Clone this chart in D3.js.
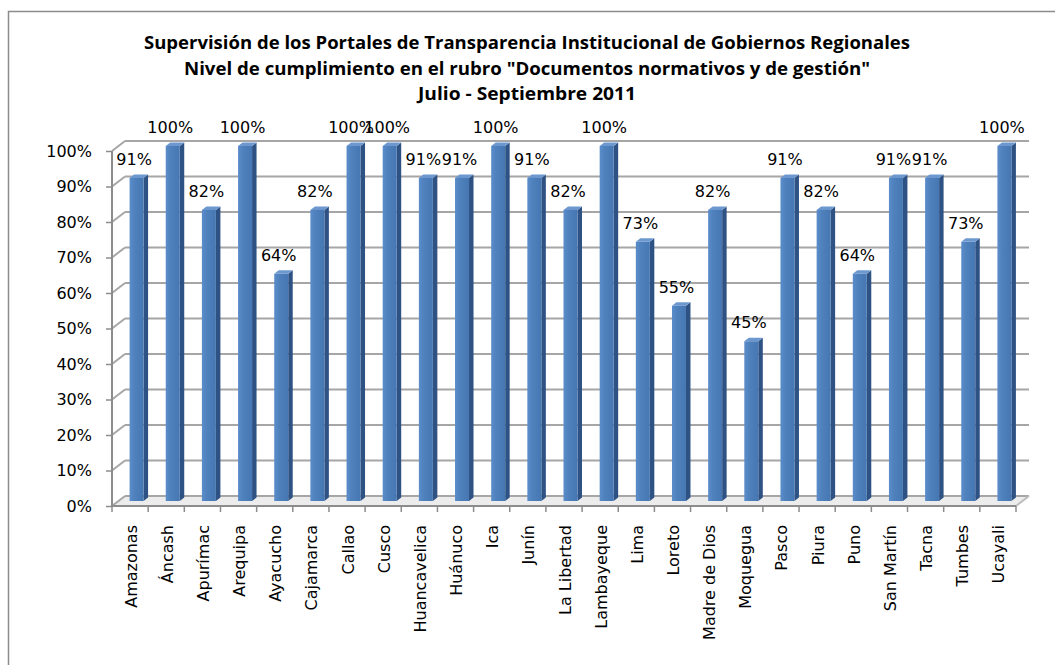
<!DOCTYPE html>
<html>
<head>
    <meta charset="utf-8">
    <script src="https://d3js.org/d3.v7.min.js"></script>
    <style>
        body { margin: 0; background: #fff; }
        text { font-family: "DejaVu Sans", sans-serif; fill: #000; }
    </style>
</head>
<body>
    <svg width="1055" height="665"></svg>
    <script>
        const titleLines = [
            "Supervisión de los Portales de Transparencia Institucional de Gobiernos Regionales",
            "Nivel de cumplimiento en el rubro \"Documentos normativos y de gestión\"",
            "Julio - Septiembre 2011"
        ];
        const regions = ["Amazonas", "Áncash", "Apurímac", "Arequipa", "Ayacucho", "Cajamarca",
            "Callao", "Cusco", "Huancavelica", "Huánuco", "Ica", "Junín", "La Libertad",
            "Lambayeque", "Lima", "Loreto", "Madre de Dios", "Moquegua", "Pasco", "Piura",
            "Puno", "San Martín", "Tacna", "Tumbes", "Ucayali"];
        const values = [0.91, 1.00, 0.82, 1.00, 0.64, 0.82, 1.00, 1.00, 0.91, 0.91, 1.00, 0.91, 0.82,
            1.00, 0.73, 0.55, 0.82, 0.45, 0.91, 0.82, 0.64, 0.91, 0.91, 0.73, 1.00];
        const yTicks = [0, 0.1, 0.2, 0.3, 0.4, 0.5, 0.6, 0.7, 0.8, 0.9, 1.0];

        const data = regions.map((r, i) => ({ region: r, value: values[i] }));

        // 3d depth of the plot box
        const dx = 13, dy = -10;
        const plotLeft = 112, plotRight = 1016, plotBottom = 506, plotTop = 151;

        const svg = d3.select("svg");

        // outer frame
        svg.append("rect")
            .attr("x", 8.5).attr("y", 11.5)
            .attr("width", 1100).attr("height", 700)
            .attr("fill", "none").attr("stroke", "#8c8c8c").attr("stroke-width", 1.5);

        // title
        const titleWidths = [766, 686, 218];
        const titleBase = [49, 75, 100];
        titleLines.forEach((t, i) => {
            svg.append("text")
                .attr("x", 527).attr("y", titleBase[i])
                .attr("text-anchor", "middle")
                .attr("textLength", titleWidths[i])
                .attr("lengthAdjust", "spacingAndGlyphs")
                .style("font-family", "'Open Sans', sans-serif")
                .style("font-weight", "bold")
                .style("font-size", "17px")
                .text(t);
        });

        const x = d3.scaleBand().domain(regions).range([plotLeft, plotRight]);
        const y = d3.scaleLinear().domain([0, 1]).range([plotBottom, plotTop]);

        // floor
        svg.append("path")
            .attr("d", `M${plotLeft},${plotBottom}L${plotRight},${plotBottom}L${plotRight + dx},${plotBottom + dy}L${plotLeft + dx},${plotBottom + dy}Z`)
            .attr("fill", "#ececec").attr("stroke", "none");

        // back wall gridlines + side wall diagonals
        const grid = svg.append("g");
        yTicks.forEach(t => {
            grid.append("line")
                .attr("x1", plotLeft + dx).attr("x2", plotRight + dx)
                .attr("y1", y(t) + dy).attr("y2", y(t) + dy)
                .attr("stroke", "#a6a6a6").attr("stroke-width", 2.2);
            grid.append("line")
                .attr("x1", plotLeft).attr("y1", y(t))
                .attr("x2", plotLeft + dx).attr("y2", y(t) + dy)
                .attr("stroke", "#a6a6a6").attr("stroke-width", 2);
        });
        grid.append("line")
            .attr("x1", plotRight).attr("y1", plotBottom)
            .attr("x2", plotRight + dx).attr("y2", plotBottom + dy)
            .attr("stroke", "#bdbdbd").attr("stroke-width", 2);

        // bar gradient
        const defs = svg.append("defs");
        const grad = defs.append("linearGradient").attr("id", "face").attr("x1", 0).attr("x2", 1);
        grad.append("stop").attr("offset", "0%").attr("stop-color", "#5b8dcb");
        grad.append("stop").attr("offset", "35%").attr("stop-color", "#4f81bd");
        grad.append("stop").attr("offset", "100%").attr("stop-color", "#4677b2");

        const faceW = 14, sideW = 4.5, sideH = -3.5;
        const bars = svg.append("g").selectAll("g")
            .data(data)
            .enter()
            .append("g")
            .attr("transform", d => `translate(${x(d.region) + x.bandwidth() / 2 + dx / 2 - faceW / 2},${dy / 2})`);

        bars.append("path")
            .attr("d", d => `M${faceW},${y(d.value)}L${faceW + sideW},${y(d.value) + sideH}L${faceW + sideW},${plotBottom + sideH}L${faceW},${plotBottom}Z`)
            .attr("fill", "#2f5284");
        bars.append("path")
            .attr("d", d => `M0,${y(d.value)}L${sideW},${y(d.value) + sideH}L${faceW + sideW},${y(d.value) + sideH}L${faceW},${y(d.value)}Z`)
            .attr("fill", "#6d98cf");
        bars.append("rect")
            .attr("x", 0).attr("y", d => y(d.value))
            .attr("width", faceW).attr("height", d => plotBottom - y(d.value))
            .attr("fill", "url(#face)");

        // front axis lines
        svg.append("line")
            .attr("x1", plotLeft).attr("x2", plotLeft).attr("y1", plotTop).attr("y2", plotBottom)
            .attr("stroke", "#8c8c8c").attr("stroke-width", 2);
        svg.append("line")
            .attr("x1", plotLeft).attr("x2", plotRight).attr("y1", plotBottom).attr("y2", plotBottom)
            .attr("stroke", "#8c8c8c").attr("stroke-width", 2);

        // y axis
        const yAxis = svg.append("g")
            .attr("transform", `translate(${plotLeft},0)`)
            .call(d3.axisLeft(y).tickValues(yTicks).tickFormat(d3.format(".0%")).tickSize(6).tickPadding(14));
        yAxis.select(".domain").remove();
        yAxis.selectAll(".tick line").attr("stroke", "#8c8c8c").attr("stroke-width", 1.5);
        yAxis.selectAll(".tick text").style("font-size", "16px").style("font-family", "'DejaVu Sans', sans-serif");

        // category ticks at band edges
        const edges = regions.map(r => x(r)).concat([plotRight]);
        svg.append("g").selectAll("line")
            .data(edges)
            .enter()
            .append("line")
            .attr("x1", d => d).attr("x2", d => d)
            .attr("y1", plotBottom).attr("y2", plotBottom + 6)
            .attr("stroke", "#8c8c8c").attr("stroke-width", 1.5);

        // category labels
        svg.append("g").selectAll("text")
            .data(regions)
            .enter()
            .append("text")
            .attr("transform", d => `translate(${x(d) + x.bandwidth() / 2 + 1},525) rotate(-90)`)
            .attr("text-anchor", "end")
            .attr("dominant-baseline", "central")
            .style("font-size", "16px")
            .text(d => d);

        // data labels
        svg.append("g").selectAll("text")
            .data(data)
            .enter()
            .append("text")
            .attr("x", d => x(d.region) + x.bandwidth() / 2 + 4)
            .attr("y", d => y(d.value) + dy / 2 - 13)
            .attr("text-anchor", "middle")
            .style("font-size", "16px")
            .text(d => d3.format(".0%")(d.value));
    </script>
</body>
</html>
